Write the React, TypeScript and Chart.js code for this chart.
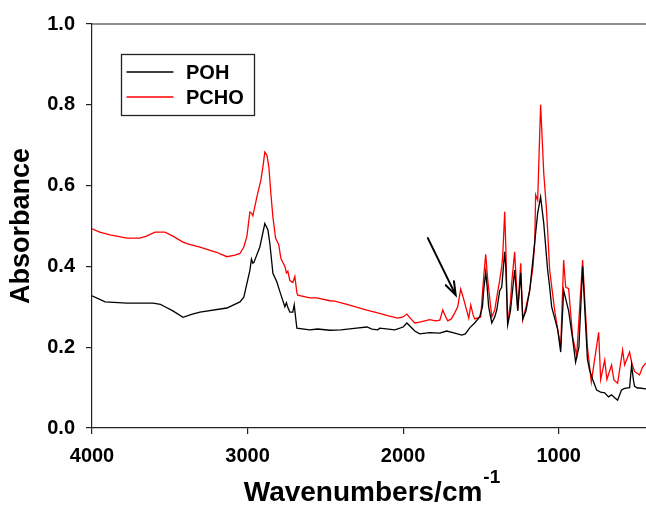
import React, { useEffect, useRef } from "react";
import { Chart, registerables } from "chart.js";

Chart.register(...registerables);

// ---- data ----
const pohWavenumbers = [
  4000, 3916, 3775, 3608, 3560, 3531, 3480, 3415, 3360, 3306, 3133, 3049, 3024, 3004, 2985, 2975, 2966, 2959, 2934, 2921,
  2889, 2869, 2857, 2837, 2812, 2786, 2760, 2750, 2741, 2728, 2709, 2700, 2690, 2683, 2600, 2550, 2471, 2400, 2300, 2233,
  2200, 2163, 2150, 2053, 2000, 1976, 1950, 1925, 1893, 1829, 1764, 1720, 1668, 1623, 1600, 1572, 1540, 1508, 1490, 1482,
  1469, 1460, 1450, 1430, 1411, 1398, 1379, 1366, 1347, 1340, 1334, 1328, 1310, 1302, 1283, 1275, 1263, 1244, 1231, 1210,
  1186, 1154, 1135, 1116, 1096, 1071, 1058, 1045, 1006, 987, 968, 955, 936, 910, 891, 870, 846, 833, 815, 801,
  780, 756, 730, 704, 680, 660, 640, 621, 596, 576, 544, 531, 520, 512, 493, 480, 441, 400,
];
const pohAbsorbance = [
  0.327, 0.312, 0.309, 0.309, 0.306, 0.3, 0.29, 0.274, 0.281, 0.287, 0.297, 0.312, 0.324, 0.358, 0.39, 0.418, 0.408, 0.41, 0.435, 0.448,
  0.506, 0.49, 0.458, 0.383, 0.362, 0.33, 0.3, 0.31, 0.298, 0.287, 0.287, 0.305, 0.27, 0.247, 0.243, 0.245, 0.242, 0.243, 0.247, 0.25,
  0.245, 0.243, 0.247, 0.243, 0.25, 0.26, 0.25, 0.24, 0.233, 0.236, 0.235, 0.24, 0.235, 0.23, 0.233, 0.248, 0.26, 0.275, 0.3, 0.341,
  0.386, 0.35, 0.3, 0.26, 0.275, 0.292, 0.34, 0.349, 0.436, 0.4, 0.33, 0.255, 0.29, 0.32, 0.391, 0.35, 0.29, 0.384, 0.27, 0.29,
  0.341, 0.46, 0.532, 0.572, 0.507, 0.391, 0.35, 0.3, 0.243, 0.188, 0.341, 0.32, 0.29, 0.22, 0.163, 0.2, 0.4, 0.3, 0.17, 0.143,
  0.119, 0.094, 0.089, 0.087, 0.077, 0.082, 0.075, 0.069, 0.094, 0.098, 0.1, 0.156, 0.12, 0.103, 0.099, 0.099, 0.097, 0.097,
];

const pchoWavenumbers = [
  4000, 3950, 3884, 3775, 3692, 3650, 3595, 3531, 3480, 3415, 3380, 3306, 3200, 3133, 3081, 3049, 3024, 3004, 2985, 2975,
  2966, 2940, 2914, 2900, 2889, 2875, 2863, 2850, 2837, 2820, 2799, 2786, 2760, 2750, 2741, 2728, 2709, 2696, 2683, 2677,
  2600, 2555, 2471, 2439, 2350, 2233, 2163, 2100, 2034, 2000, 1976, 1950, 1925, 1893, 1829, 1790, 1764, 1745, 1732, 1713,
  1690, 1668, 1649, 1630, 1615, 1604, 1578, 1565, 1550, 1540, 1501, 1482, 1469, 1456, 1430, 1411, 1395, 1379, 1366, 1360,
  1347, 1340, 1334, 1328, 1310, 1302, 1283, 1275, 1263, 1244, 1231, 1210, 1186, 1165, 1154, 1148, 1135, 1116, 1096, 1080,
  1071, 1058, 1026, 1000, 987, 968, 955, 936, 910, 884, 846, 833, 815, 801, 790, 743, 730, 704, 690, 660,
  645, 621, 589, 576, 544, 532, 525, 512, 480, 461, 441, 400,
];
const pchoAbsorbance = [
  0.493, 0.485, 0.478, 0.47, 0.47, 0.475, 0.485, 0.485, 0.475, 0.46, 0.455, 0.448, 0.435, 0.424, 0.428, 0.432, 0.448, 0.475, 0.535, 0.532,
  0.525, 0.572, 0.614, 0.65, 0.683, 0.675, 0.646, 0.58, 0.522, 0.47, 0.453, 0.42, 0.4, 0.384, 0.388, 0.365, 0.36, 0.375, 0.335, 0.329,
  0.322, 0.322, 0.315, 0.314, 0.305, 0.292, 0.285, 0.278, 0.272, 0.275, 0.282, 0.27, 0.26, 0.262, 0.268, 0.265, 0.267, 0.292, 0.28, 0.265,
  0.27, 0.285, 0.3, 0.344, 0.325, 0.309, 0.272, 0.304, 0.28, 0.27, 0.275, 0.374, 0.43, 0.366, 0.275, 0.292, 0.33, 0.366, 0.4, 0.423,
  0.535, 0.45, 0.35, 0.26, 0.31, 0.359, 0.436, 0.38, 0.292, 0.408, 0.267, 0.3, 0.341, 0.4, 0.458, 0.577, 0.564, 0.8, 0.631, 0.55,
  0.49, 0.391, 0.292, 0.23, 0.2, 0.416, 0.349, 0.345, 0.225, 0.18, 0.416, 0.324, 0.2, 0.151, 0.114, 0.237, 0.12, 0.168, 0.12, 0.156,
  0.119, 0.111, 0.193, 0.156, 0.188, 0.165, 0.155, 0.14, 0.131, 0.151, 0.16, 0.16,
];

const seriesLabels = ["POH", "PCHO"];
const seriesColors = ["#000000", "#ff0000"];
const xTickValues = [4000, 3000, 2000, 1000];
const yTickValues = [0, 0.2, 0.4, 0.6, 0.8, 1.0];
const xRange = [400, 4000];
const yRange = [0, 1];
const arrowFrom = [1841, 0.47];
const arrowTo = [1662, 0.329];
const xTitle = "Wavenumbers/cm";
const xTitleSup = "-1";
const yTitle = "Absorbance";

const FONT = "'Liberation Sans', Arial, Helvetica, sans-serif";

const decorPlugin = {
  id: "decor",
  afterDraw(chart: any) {
    const ctx = chart.ctx;
    const a = chart.chartArea;
    const xs = chart.scales.x;
    const ys = chart.scales.y;
    ctx.save();
    // frame top & right
    ctx.strokeStyle = "#222";
    ctx.lineWidth = 1.2;
    ctx.beginPath();
    ctx.moveTo(a.left, a.top);
    ctx.lineTo(a.right, a.top);
    ctx.lineTo(a.right, a.bottom);
    ctx.stroke();

    // arrow
    const x1 = xs.getPixelForValue(arrowFrom[0]);
    const y1 = ys.getPixelForValue(arrowFrom[1]);
    const x2 = xs.getPixelForValue(arrowTo[0]);
    const y2 = ys.getPixelForValue(arrowTo[1]);
    ctx.strokeStyle = "#000";
    ctx.lineWidth = 2;
    ctx.lineCap = "round";
    ctx.beginPath();
    ctx.moveTo(x1, y1);
    ctx.lineTo(x2, y2);
    const ang = Math.atan2(y2 - y1, x2 - x1);
    const hl = 14;
    const spread = 0.33;
    ctx.moveTo(x2 - hl * Math.cos(ang - spread), y2 - hl * Math.sin(ang - spread));
    ctx.lineTo(x2, y2);
    ctx.lineTo(x2 - hl * Math.cos(ang + spread), y2 - hl * Math.sin(ang + spread));
    ctx.stroke();

    // legend
    const lx = 121, ly = 54, lw = 133, lh = 61;
    ctx.lineWidth = 1.3;
    ctx.strokeStyle = "#222";
    ctx.strokeRect(lx + 0.5, ly + 0.5, lw, lh);
    seriesLabels.forEach((lab, i) => {
      const yy = 72 + i * 25;
      ctx.strokeStyle = seriesColors[i];
      ctx.lineWidth = 1.4;
      ctx.beginPath();
      ctx.moveTo(127, yy);
      ctx.lineTo(173, yy);
      ctx.stroke();
      ctx.fillStyle = "#000";
      ctx.font = `bold 20px ${FONT}`;
      ctx.textAlign = "left";
      ctx.textBaseline = "middle";
      ctx.fillText(lab, 186, yy + 1);
    });

    // y title
    ctx.save();
    ctx.translate(22, (a.top + a.bottom) / 2);
    ctx.rotate(-Math.PI / 2);
    ctx.font = `bold 27px ${FONT}`;
    ctx.textAlign = "center";
    ctx.textBaseline = "middle";
    ctx.fillStyle = "#000";
    ctx.fillText(yTitle, 0, 0);
    ctx.restore();

    // x title with superscript
    ctx.font = `bold 28px ${FONT}`;
    const w1 = ctx.measureText(xTitle).width;
    ctx.font = `bold 19px ${FONT}`;
    const w2 = ctx.measureText(xTitleSup).width;
    const cx = (a.left + a.right) / 2;
    const startX = cx - (w1 + w2 + 1) / 2;
    ctx.textAlign = "left";
    ctx.textBaseline = "alphabetic";
    ctx.fillStyle = "#000";
    ctx.font = `bold 28px ${FONT}`;
    ctx.fillText(xTitle, startX, 501);
    ctx.font = `bold 19px ${FONT}`;
    ctx.fillText(xTitleSup, startX + w1 + 1, 483);
    ctx.restore();
  },
};

export default function App() {
  const ref = useRef<HTMLCanvasElement>(null);
  useEffect(() => {
    if (!ref.current) return;
    const chart = new Chart(ref.current, {
      type: "line",
      data: {
        datasets: [
          {
            label: seriesLabels[0],
            data: pohWavenumbers.map((w, i) => ({ x: w, y: pohAbsorbance[i] })),
            borderColor: seriesColors[0],
            borderWidth: 1.3,
            pointRadius: 0,
            tension: 0,
          },
          {
            label: seriesLabels[1],
            data: pchoWavenumbers.map((w, i) => ({ x: w, y: pchoAbsorbance[i] })),
            borderColor: seriesColors[1],
            borderWidth: 1.3,
            pointRadius: 0,
            tension: 0,
          },
        ],
      },
      options: {
        responsive: false,
        animation: false,
        layout: { padding: { top: 24, right: 8, left: 0, bottom: 0 } },
        plugins: { legend: { display: false }, tooltip: { enabled: false } },
        scales: {
          x: {
            type: "linear",
            reverse: true,
            min: xRange[0],
            max: xRange[1],
            afterBuildTicks: (s: any) => {
              s.ticks = xTickValues.map((v) => ({ value: v }));
            },
            afterFit: (s: any) => {
              s.height = 81;
            },
            ticks: {
              font: { family: FONT, size: 20, weight: "bold" },
              color: "#000",
              padding: 10,
              maxRotation: 0,
              autoSkip: false,
              callback: (v: any) => String(v),
            },
            grid: { display: true, drawOnChartArea: false, drawTicks: true, tickLength: 6, color: "#222", lineWidth: 1.2 },
            border: { display: true, color: "#222", width: 1.2 },
          },
          y: {
            type: "linear",
            min: yRange[0],
            max: yRange[1],
            afterBuildTicks: (s: any) => {
              s.ticks = yTickValues.map((v) => ({ value: v }));
            },
            afterFit: (s: any) => {
              s.width = 92;
            },
            ticks: {
              font: { family: FONT, size: 20, weight: "bold" },
              color: "#000",
              padding: 11,
              autoSkip: false,
              callback: (v: any) => Number(v).toFixed(1),
            },
            grid: { display: true, drawOnChartArea: false, drawTicks: true, tickLength: 6, color: "#222", lineWidth: 1.2 },
            border: { display: true, color: "#222", width: 1.2 },
          },
        },
      },
      plugins: [decorPlugin],
    });
    return () => chart.destroy();
  }, []);
  return (
    <div style={{ position: "fixed", left: 0, top: 0, width: 660, height: 509, background: "#fff" }}>
      <canvas ref={ref} width={660} height={509} style={{ display: "block" }} />
    </div>
  );
}
